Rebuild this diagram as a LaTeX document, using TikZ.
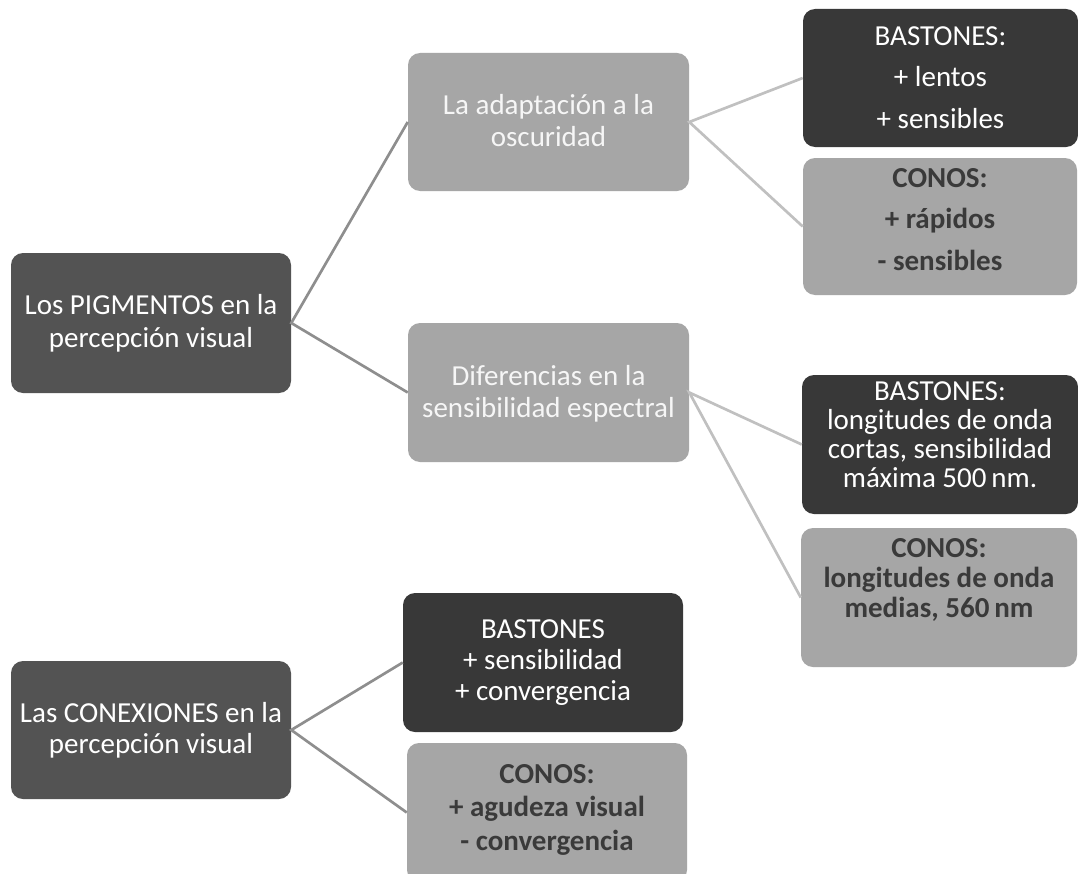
\documentclass[tikz,border=0pt]{standalone}
\usepackage{fontspec}
\setmainfont{Carlito}
\definecolor{pdark}{RGB}{83,83,83}
\definecolor{bdark}{RGB}{56,56,56}
\definecolor{lgray}{RGB}{166,166,166}
\definecolor{ctext}{RGB}{58,58,58}
\definecolor{wtext}{RGB}{246,246,246}
\definecolor{lineA}{RGB}{142,142,142}
\definecolor{lineB}{RGB}{192,192,192}
\newcommand\txtsize[1]{\fontsize{21.75pt}{#1}\selectfont}
\begin{document}
\lineskiplimit=-50pt\relax
\begin{tikzpicture}[x=0.75pt,y=-0.75pt,
  box/.style={rounded corners=9pt, inner sep=0pt, draw=none},
  txt/.style={align=center, inner sep=0pt, font=\txtsize{#1}},
  txtb/.style={align=center, inner sep=0pt, font=\txtsize{#1}\bfseries},
  conA/.style={draw=lineA, line width=2pt},
  conB/.style={draw=lineB, line width=2pt}]
\useasboundingbox (0,0) rectangle (1078,874);
\fill[white] (0,0) rectangle (1078,874);
\clip (0,0) rectangle (1078,874);

% boxes
\node[box, fill=pdark, minimum width=210pt, minimum height=105pt] (p1) at (151,323) {};
\node[box, fill=lgray, minimum width=210.75pt, minimum height=103.5pt] (a1) at (548.5,122) {};
\node[box, fill=bdark, minimum width=206.25pt, minimum height=103.5pt] (b1) at (940.5,78) {};
\node[box, fill=lgray, minimum width=205.5pt, minimum height=102.75pt] (c1) at (940,226.5) {};
\node[box, fill=lgray, minimum width=210.75pt, minimum height=104.25pt] (a2) at (548.5,392.5) {};
\node[box, fill=bdark, minimum width=207pt, minimum height=104.25pt] (b2) at (940,444.5) {};
\node[box, fill=lgray, minimum width=207pt, minimum height=104.25pt] (c2) at (939,597.5) {};
\node[box, fill=pdark, minimum width=210pt, minimum height=103.5pt] (p2) at (151,730) {};
\node[box, fill=bdark, minimum width=210pt, minimum height=104.25pt] (b3) at (543,662.5) {};
\node[box, fill=lgray, minimum width=210pt, minimum height=104.25pt] (c3) at (547,812.5) {};

% texts
\node[txt=24.75pt, text=white] (p1t) at (151,323.9) {\strut Los PIGMENTOS en la\\\strut percepción visual};
\node[txt=24pt, text=wtext] (a1t) at (548.5,123.6) {\strut La adaptación a la\\\strut oscuridad};
\node[txt=31.125pt, text=white] (b1t) at (940.5,78.6) {\strut BASTONES:\\\strut + lentos\\\strut + sensibles};
\node[txtb=31.125pt, text=ctext] (c1t) at (940,220.2) {\strut CONOS:\\\strut + rápidos\\\strut - sensibles};
\node[txt=24pt, text=wtext] (a2t) at (548.5,394.6) {\strut Diferencias en la\\\strut sensibilidad espectral};
\node[txt=21.75pt, text=white] (b2t) at (940,437.7) {\strut BASTONES:\\\strut longitudes de onda\\\strut cortas, sensibilidad\\\strut máxima 500\,nm.};
\node[txtb=22.5pt, text=ctext] (c2t) at (939,581) {\strut CONOS:\\\strut longitudes de onda\\\strut medias, 560\,nm};
\node[txt=23.25pt, text=white] (p2t) at (151,731.3) {\strut Las CONEXIONES en la\\\strut percepción visual};
\node[txt=23.25pt, text=white] (b3t) at (543,662.8) {\strut BASTONES\\\strut + sensibilidad\\\strut + convergencia};
\node[txtb=25.125pt, text=ctext] (c3t) at (547,809.8) {\strut CONOS:\\\strut + agudeza visual\\\strut - convergencia};

% connectors
\draw[conA] (a1.west) -- (p1.east) -- (a2.west);
\draw[conB] (b1.west) -- (a1.east) -- (c1.west);
\draw[conB] (b2.west) -- (a2.east) -- (c2.west);
\draw[conA] (b3.west) -- (p2.east) -- (c3.west);
\end{tikzpicture}
\end{document}
